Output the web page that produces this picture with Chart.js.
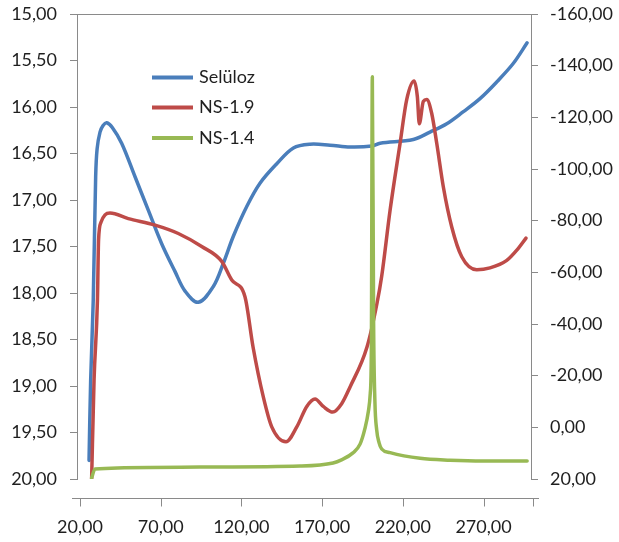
<!DOCTYPE html>
<html>
<head>
<meta charset="utf-8">
<script src="https://cdn.jsdelivr.net/npm/chart.js@4.4.1/dist/chart.umd.min.js"></script>
<style>
html,body{margin:0;padding:0;background:#fff;}
#wrap{width:619px;height:542px;position:relative;}
</style>
</head>
<body>
<div id="wrap"><canvas id="c" width="619" height="542"></canvas></div>
<script>
// ---- data ----
const seriesNames = ['Selüloz', 'NS-1.9', 'NS-1.4'];
const xTicks = [20, 70, 120, 170, 220, 270];
const leftTicks = [15, 15.5, 16, 16.5, 17, 17.5, 18, 18.5, 19, 19.5, 20];
const rightTicks = [-160, -140, -120, -100, -80, -60, -40, -20, 0, 20];

const selulozX = [25.6, 26.6, 28.2, 29.7, 30.6, 32.4, 34.3, 36.5, 40.0, 45.8, 54.1, 62.3, 70.6, 78.9, 85.1, 93.3, 102.6, 108.8, 115.0, 123.3, 131.5, 141.9, 152.2, 162.5, 174.9, 187.3, 200.9, 205.9, 226.5, 236.8, 247.2, 257.5, 267.8, 278.2, 288.5, 297.0];
const selulozY = [19.80, 18.94, 18.08, 16.75, 16.45, 16.27, 16.20, 16.17, 16.22, 16.39, 16.75, 17.11, 17.47, 17.77, 17.98, 18.10, 17.93, 17.68, 17.39, 17.07, 16.82, 16.61, 16.44, 16.40, 16.41, 16.43, 16.42, 16.39, 16.35, 16.27, 16.18, 16.05, 15.91, 15.73, 15.53, 15.31];

const ns19X = [27.2, 28.7, 30.8, 31.5, 33.0, 35.5, 38.6, 49.9, 66.5, 80.9, 95.4, 107.8, 114.0, 122.2, 127.2, 133.6, 138.8, 147.6, 154.3, 160.5, 165.6, 170.7, 176.6, 182.1, 187.3, 197.8, 204.0, 206.9, 212.1, 218.3, 222.4, 227.0, 229.0, 230.2, 232.7, 234.8, 237.9, 241.0, 245.1, 250.3, 256.5, 265.8, 274.0, 284.4, 290.6, 296.3];
const ns19Y = [20.00, 18.94, 18.08, 17.43, 17.24, 17.16, 17.14, 17.20, 17.27, 17.36, 17.50, 17.66, 17.86, 18.04, 18.58, 19.12, 19.44, 19.60, 19.44, 19.22, 19.14, 19.22, 19.28, 19.19, 19.01, 18.58, 18.11, 17.82, 17.11, 16.39, 15.92, 15.72, 15.89, 16.18, 15.94, 15.92, 16.07, 16.39, 16.86, 17.29, 17.61, 17.75, 17.73, 17.65, 17.54, 17.41];

const ns14X = [27.2, 29.3, 63.4, 94.3, 156.3, 176.8, 182.0, 189.1, 193.5, 196.5, 198.6, 199.8, 200.5, 201.1, 201.9, 202.7, 203.8, 205.3, 206.9, 212.1, 230.7, 249.2, 269.7, 297.0];
const ns14Y = [19.6, 16.1, 15.5, 15.4, 15.0, 13.8, 12.6, 9.9, 6.5, 0.5, -6.0, -13.0, -30.0, -135.7, -40.0, -10.0, 1.0, 6.0, 8.4, 9.8, 12.0, 12.7, 13.0, 13.0];

// ---- helpers ----
const pts = (xs, ys) => xs.map((x, i) => ({x: x, y: ys[i]}));
const fmt = v => Number(v).toFixed(2).replace('.', ',').replace('-0,00', '0,00');
const FONT = {family: 'Lato', size: 18};
const TXT = '#1f1f1f';
const AX = '#8a8a8a';
const colors = ['#4A7EBB', '#BE4B48', '#98B954'];

const axesPlugin = {
  id: 'excelAxes',
  beforeDatasetsDraw(chart) {
    const ctx = chart.ctx, a = chart.chartArea, xs = chart.scales.x;
    ctx.save();
    ctx.strokeStyle = AX; ctx.lineWidth = 1;
    ctx.beginPath(); ctx.moveTo(a.left, a.top + 0.5); ctx.lineTo(a.right, a.top + 0.5); ctx.stroke();
    const yAx = Math.round(a.bottom + 19) + 0.5;
    ctx.beginPath(); ctx.moveTo(a.left - 5, yAx); ctx.lineTo(a.right + 8, yAx); ctx.stroke();
    const tickPos = xTicks.map(v => xs.getPixelForValue(v)).concat([a.right + 2]);
    tickPos.forEach(px => {
      const p = Math.round(px) + 0.5;
      ctx.beginPath(); ctx.moveTo(p, yAx); ctx.lineTo(p, yAx + 8); ctx.stroke();
    });
    ctx.restore();
  },
  afterDatasetsDraw(chart) {
    const ctx = chart.ctx;
    const rows = [77.5, 107.5, 138];
    ctx.save();
    chart.data.datasets.forEach((ds, i) => {
      ctx.strokeStyle = ds.borderColor; ctx.lineWidth = 4; ctx.lineCap = 'butt';
      ctx.beginPath(); ctx.moveTo(152, rows[i]); ctx.lineTo(193, rows[i]); ctx.stroke();
      ctx.fillStyle = TXT; ctx.font = FONT.size + 'px ' + FONT.family;
      ctx.textBaseline = 'middle'; ctx.textAlign = 'left';
      ctx.fillText(ds.label, 199, rows[i]);
    });
    ctx.restore();
  }
};

const fitY = w => s => { s.width = w; s.paddingTop = 0; s.paddingBottom = 0; };

new Chart(document.getElementById('c'), {
  type: 'line',
  data: {
    datasets: [
      {label: seriesNames[0], data: pts(selulozX, selulozY), yAxisID: 'y', borderColor: colors[0], order: 3, cubicInterpolationMode: 'default', tension: 0.35},
      {label: seriesNames[1], data: pts(ns19X, ns19Y), yAxisID: 'y', borderColor: colors[1], order: 2},
      {label: seriesNames[2], data: pts(ns14X, ns14Y), yAxisID: 'y2', borderColor: colors[2], order: 1}
    ]
  },
  options: {
    responsive: false,
    animation: false,
    devicePixelRatio: 1,
    datasets: {line: {borderWidth: 3.5, pointRadius: 0, fill: false, cubicInterpolationMode: 'monotone', borderCapStyle: 'round', borderJoinStyle: 'round'}},
    layout: {padding: {top: 14, left: 0, right: 0, bottom: 0}},
    plugins: {legend: {display: false}, tooltip: {enabled: false}},
    scales: {
      x: {
        type: 'linear', min: 18.14, max: 299.4,
        afterBuildTicks: s => { s.ticks = xTicks.map(v => ({value: v})); },
        afterFit: s => { s.height = 63; s.paddingLeft = 0; s.paddingRight = 0; },
        grid: {display: false}, border: {display: false},
        ticks: {callback: v => fmt(v), font: FONT, color: TXT, padding: 29, maxRotation: 0, autoSkip: false}
      },
      y: {
        position: 'left', reverse: true, min: 15, max: 20,
        afterBuildTicks: s => { s.ticks = leftTicks.map(v => ({value: v})); },
        afterFit: fitY(77),
        grid: {drawOnChartArea: false, tickLength: 7, color: AX},
        border: {color: AX},
        ticks: {callback: v => fmt(v), font: FONT, color: TXT, padding: 13}
      },
      y2: {
        position: 'right', reverse: true, min: -160, max: 20,
        afterBuildTicks: s => { s.ticks = rightTicks.map(v => ({value: v})); },
        afterFit: fitY(88),
        grid: {drawOnChartArea: false, tickLength: 7, color: AX},
        border: {color: AX},
        ticks: {callback: v => fmt(v), font: FONT, color: TXT, padding: 12}
      }
    }
  },
  plugins: [axesPlugin]
});
</script>
</body>
</html>
